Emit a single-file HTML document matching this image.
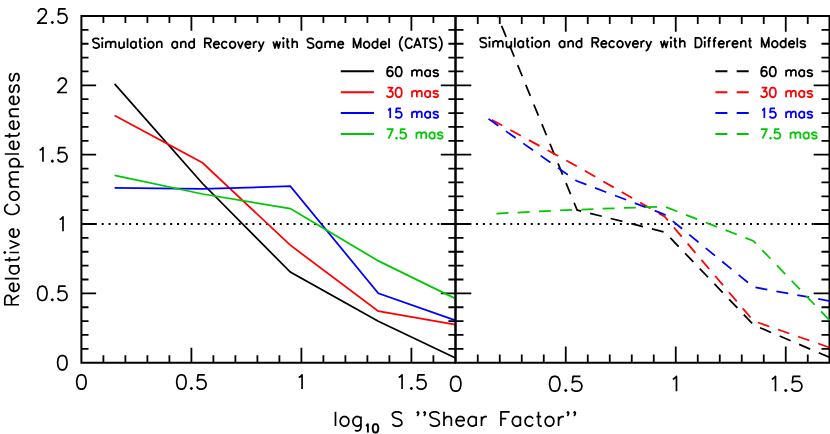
<!DOCTYPE html>
<html><head><meta charset="utf-8"><title>Relative Completeness</title>
<style>html,body{margin:0;padding:0;background:#fff;}body{width:830px;height:434px;overflow:hidden;font-family:"Liberation Sans",sans-serif;}svg{display:block;}</style></head><body>
<svg width="830" height="434" viewBox="0 0 830 434">
<rect width="830" height="434" fill="#fff"/>
<defs>
<clipPath id="cl"><rect x="81.4" y="16.0" width="374.1" height="346.7"/></clipPath>
<clipPath id="cr"><rect x="455.5" y="16.0" width="376.0" height="346.7"/></clipPath>
</defs>
<path d="M81.4 16.0H455.5M81.4 362.7H455.5M81.4 15.0V363.7M455.5 15.0V363.7" stroke="#000" stroke-width="2" fill="none"/>
<path d="M103.40 362.7v-7.3999999999999995M103.40 16.0v7.1M125.40 362.7v-7.3999999999999995M125.40 16.0v7.1M147.40 362.7v-7.3999999999999995M147.40 16.0v7.1M169.40 362.7v-7.3999999999999995M169.40 16.0v7.1M191.40 362.7v-15.0M191.40 16.0v14.7M213.40 362.7v-7.3999999999999995M213.40 16.0v7.1M235.40 362.7v-7.3999999999999995M235.40 16.0v7.1M257.40 362.7v-7.3999999999999995M257.40 16.0v7.1M279.40 362.7v-7.3999999999999995M279.40 16.0v7.1M301.40 362.7v-15.0M301.40 16.0v14.7M323.40 362.7v-7.3999999999999995M323.40 16.0v7.1M345.40 362.7v-7.3999999999999995M345.40 16.0v7.1M367.40 362.7v-7.3999999999999995M367.40 16.0v7.1M389.40 362.7v-7.3999999999999995M389.40 16.0v7.1M411.40 362.7v-15.0M411.40 16.0v14.7M433.40 362.7v-7.3999999999999995M433.40 16.0v7.1M81.4 348.83h7.1M455.5 348.83h-7.1M81.4 334.96h7.1M455.5 334.96h-7.1M81.4 321.10h7.1M455.5 321.10h-7.1M81.4 307.23h7.1M455.5 307.23h-7.1M81.4 293.36h14.7M455.5 293.36h-14.7M81.4 279.49h7.1M455.5 279.49h-7.1M81.4 265.62h7.1M455.5 265.62h-7.1M81.4 251.76h7.1M455.5 251.76h-7.1M81.4 237.89h7.1M455.5 237.89h-7.1M81.4 224.02h14.7M455.5 224.02h-14.7M81.4 210.15h7.1M455.5 210.15h-7.1M81.4 196.28h7.1M455.5 196.28h-7.1M81.4 182.42h7.1M455.5 182.42h-7.1M81.4 168.55h7.1M455.5 168.55h-7.1M81.4 154.68h14.7M455.5 154.68h-14.7M81.4 140.81h7.1M455.5 140.81h-7.1M81.4 126.94h7.1M455.5 126.94h-7.1M81.4 113.08h7.1M455.5 113.08h-7.1M81.4 99.21h7.1M455.5 99.21h-7.1M81.4 85.34h14.7M455.5 85.34h-14.7M81.4 71.47h7.1M455.5 71.47h-7.1M81.4 57.60h7.1M455.5 57.60h-7.1M81.4 43.74h7.1M455.5 43.74h-7.1M81.4 29.87h7.1M455.5 29.87h-7.1" stroke="#000" stroke-width="1.8" fill="none"/>
<path d="M81.15 224.02H455.5" stroke="#000" stroke-width="2" stroke-dasharray="2 4.85" fill="none"/>
<g fill="none" stroke-width="1.75" stroke-linejoin="miter" clip-path="url(#cl)">
<polyline stroke="#000" points="114.6,83.8 202.5,183.5 290.3,272.1 378.3,321.2 455.5,358.0"/>
<polyline stroke="#ff0000" points="114.6,115.5 202.5,162.8 290.3,245.2 378.3,311.2 455.5,324.7"/>
<polyline stroke="#0000ff" points="114.6,187.9 202.5,188.9 290.3,186.2 378.3,293.3 455.5,320.4"/>
<polyline stroke="#00c800" points="114.6,175.3 202.5,194.0 290.3,208.6 378.3,260.9 455.5,298.6"/>
</g>
<path d="M455.5 16.0H829.5M455.5 362.7H829.5M455.5 15.0V363.7M829.5 15.0V363.7" stroke="#000" stroke-width="2" fill="none"/>
<path d="M477.75 362.7v-8.3M477.75 16.0v8.0M499.75 362.7v-8.3M499.75 16.0v8.0M521.75 362.7v-8.3M521.75 16.0v8.0M543.75 362.7v-8.3M543.75 16.0v8.0M565.75 362.7v-16.1M565.75 16.0v15.8M587.75 362.7v-8.3M587.75 16.0v8.0M609.75 362.7v-8.3M609.75 16.0v8.0M631.75 362.7v-8.3M631.75 16.0v8.0M653.75 362.7v-8.3M653.75 16.0v8.0M675.75 362.7v-16.1M675.75 16.0v15.8M697.75 362.7v-8.3M697.75 16.0v8.0M719.75 362.7v-8.3M719.75 16.0v8.0M741.75 362.7v-8.3M741.75 16.0v8.0M763.75 362.7v-8.3M763.75 16.0v8.0M785.75 362.7v-16.1M785.75 16.0v15.8M807.75 362.7v-8.3M807.75 16.0v8.0M455.5 348.83h8.0M829.5 348.83h-8.0M455.5 334.96h8.0M829.5 334.96h-8.0M455.5 321.10h8.0M829.5 321.10h-8.0M455.5 307.23h8.0M829.5 307.23h-8.0M455.5 293.36h15.8M829.5 293.36h-15.8M455.5 279.49h8.0M829.5 279.49h-8.0M455.5 265.62h8.0M829.5 265.62h-8.0M455.5 251.76h8.0M829.5 251.76h-8.0M455.5 237.89h8.0M829.5 237.89h-8.0M455.5 224.02h15.8M829.5 224.02h-15.8M455.5 210.15h8.0M829.5 210.15h-8.0M455.5 196.28h8.0M829.5 196.28h-8.0M455.5 182.42h8.0M829.5 182.42h-8.0M455.5 168.55h8.0M829.5 168.55h-8.0M455.5 154.68h15.8M829.5 154.68h-15.8M455.5 140.81h8.0M829.5 140.81h-8.0M455.5 126.94h8.0M829.5 126.94h-8.0M455.5 113.08h8.0M829.5 113.08h-8.0M455.5 99.21h8.0M829.5 99.21h-8.0M455.5 85.34h15.8M829.5 85.34h-15.8M455.5 71.47h8.0M829.5 71.47h-8.0M455.5 57.60h8.0M829.5 57.60h-8.0M455.5 43.74h8.0M829.5 43.74h-8.0M455.5 29.87h8.0M829.5 29.87h-8.0" stroke="#000" stroke-width="1.8" fill="none"/>
<path d="M455.45 224.02H830.5" stroke="#000" stroke-width="2" stroke-dasharray="2 4.85" fill="none"/>
<g fill="none" stroke-width="1.75" stroke-dasharray="12 9.25" clip-path="url(#cr)">
<polyline stroke="#000" stroke-dashoffset="8.0" points="488.5,-6.1 577.1,210.0 664.9,232.2 753.7,325.0 831,358.0"/>
<polyline stroke="#ff0000" stroke-dashoffset="17.6" points="488.5,118.0 576.4,166.0 664.5,216.5 753.5,321.0 831,348.0"/>
<polyline stroke="#0000ff" stroke-dashoffset="0" points="488.5,118.9 576.4,180.8 664.5,214.4 753.5,287.1 831,301.2"/>
<polyline stroke="#00c800" stroke-dashoffset="13.3" points="488.5,213.9 576.4,209.7 664.5,206.5 753.5,241.0 831,321.8"/>
</g>
<path d="M46.99 23.14 L37.65 23.14 L44.32 16.34 L45.66 14.3 L46.32 12.94 L46.32 11.58 L45.66 10.22 L44.99 9.54 L43.65 8.86 L40.99 8.86 L39.65 9.54 L38.98 10.22 L38.32 11.58 L38.32 12.26M51.66 22.46 L52.33 21.78 L52.99 22.46 L52.33 23.14ZM65.66 8.86 L58.99 8.86 L58.33 14.98 L58.99 14.3 L61 13.62 L63 13.62 L65 14.3 L66.33 15.66 L67 17.7 L67 19.06 L66.33 21.1 L65 22.46 L63 23.14 L61 23.14 L58.99 22.46 L58.33 21.78 L57.66 20.42M67 92.48 L57.66 92.48 L64.33 85.68 L65.67 83.64 L66.33 82.28 L66.33 80.92 L65.67 79.56 L65 78.88 L63.66 78.2 L61 78.2 L59.66 78.88 L59 79.56 L58.33 80.92 L58.33 81.6M42.99 161.82 L42.99 147.54 L40.99 149.58 L39.65 150.26M51.66 161.14 L52.33 160.46 L52.99 161.14 L52.33 161.82ZM65.66 147.54 L58.99 147.54 L58.33 153.66 L58.99 152.98 L61 152.3 L63 152.3 L65 152.98 L66.33 154.34 L67 156.38 L67 157.74 L66.33 159.78 L65 161.14 L63 161.82 L61 161.82 L58.99 161.14 L58.33 160.46 L57.66 159.1M63 231.16 L63 216.88 L61 218.92 L59.66 219.6M42.99 300.5 L41.65 300.5 L39.65 299.82 L38.32 297.78 L37.65 294.38 L37.65 292.34 L38.32 288.94 L39.65 286.9 L41.65 286.22 L42.99 286.22 L44.99 286.9 L46.32 288.94 L46.99 292.34 L46.99 294.38 L46.32 297.78 L44.99 299.82ZM51.66 299.82 L52.33 299.14 L52.99 299.82 L52.33 300.5ZM65.66 286.22 L58.99 286.22 L58.33 292.34 L58.99 291.66 L61 290.98 L63 290.98 L65 291.66 L66.33 293.02 L67 295.06 L67 296.42 L66.33 298.46 L65 299.82 L63 300.5 L61 300.5 L58.99 299.82 L58.33 299.14 L57.66 297.78M63 369.84 L61.66 369.84 L59.66 369.16 L58.33 367.12 L57.66 363.72 L57.66 361.68 L58.33 358.28 L59.66 356.24 L61.66 355.56 L63 355.56 L65 356.24 L66.33 358.28 L67 361.68 L67 363.72 L66.33 367.12 L65 369.16ZM82.07 389.1 L80.73 389.1 L78.73 388.42 L77.4 386.38 L76.73 382.98 L76.73 380.94 L77.4 377.54 L78.73 375.5 L80.73 374.82 L82.07 374.82 L84.07 375.5 L85.4 377.54 L86.07 380.94 L86.07 382.98 L85.4 386.38 L84.07 388.42ZM456.48 391.15 L455.02 391.15 L452.82 390.45 L451.35 388.34 L450.62 384.82 L450.62 382.71 L451.35 379.2 L452.82 377.09 L455.02 376.39 L456.48 376.39 L458.68 377.09 L460.15 379.2 L460.88 382.71 L460.88 384.82 L460.15 388.34 L458.68 390.45ZM182.06 389.1 L180.73 389.1 L178.73 388.42 L177.39 386.38 L176.73 382.98 L176.73 380.94 L177.39 377.54 L178.73 375.5 L180.73 374.82 L182.06 374.82 L184.06 375.5 L185.4 377.54 L186.06 380.94 L186.06 382.98 L185.4 386.38 L184.06 388.42ZM190.73 388.42 L191.4 387.74 L192.07 388.42 L191.4 389.1ZM204.74 374.82 L198.07 374.82 L197.4 380.94 L198.07 380.26 L200.07 379.58 L202.07 379.58 L204.07 380.26 L205.41 381.62 L206.07 383.66 L206.07 385.02 L205.41 387.06 L204.07 388.42 L202.07 389.1 L200.07 389.1 L198.07 388.42 L197.4 387.74 L196.74 386.38M555.49 391.15 L554.02 391.15 L551.82 390.45 L550.36 388.34 L549.62 384.82 L549.62 382.71 L550.36 379.2 L551.82 377.09 L554.02 376.39 L555.49 376.39 L557.69 377.09 L559.15 379.2 L559.89 382.71 L559.89 384.82 L559.15 388.34 L557.69 390.45ZM565.02 390.45 L565.75 389.74 L566.48 390.45 L565.75 391.15ZM580.41 376.39 L573.08 376.39 L572.35 382.71 L573.08 382.01 L575.28 381.31 L577.48 381.31 L579.68 382.01 L581.14 383.42 L581.88 385.53 L581.88 386.93 L581.14 389.04 L579.68 390.45 L577.48 391.15 L575.28 391.15 L573.08 390.45 L572.35 389.74 L571.61 388.34M302.07 389.1 L302.07 374.82 L300.07 376.86 L298.73 377.54M676.48 391.15 L676.48 376.39 L674.28 378.5 L672.82 379.2M402.06 389.1 L402.06 374.82 L400.06 376.86 L398.73 377.54M410.73 388.42 L411.4 387.74 L412.07 388.42 L411.4 389.1ZM424.74 374.82 L418.07 374.82 L417.4 380.94 L418.07 380.26 L420.07 379.58 L422.07 379.58 L424.07 380.26 L425.41 381.62 L426.07 383.66 L426.07 385.02 L425.41 387.06 L424.07 388.42 L422.07 389.1 L420.07 389.1 L418.07 388.42 L417.4 387.74 L416.74 386.38M775.49 391.15 L775.49 376.39 L773.29 378.5 L771.82 379.2M785.02 390.45 L785.75 389.74 L786.48 390.45 L785.75 391.15ZM800.41 376.39 L793.08 376.39 L792.35 382.71 L793.08 382.01 L795.28 381.31 L797.48 381.31 L799.68 382.01 L801.14 383.42 L801.88 385.53 L801.88 386.93 L801.14 389.04 L799.68 390.45 L797.48 391.15 L795.28 391.15 L793.08 390.45 L792.35 389.74 L791.61 388.34M335.48 411.82 L335.48 426.1M341.51 417.94 L340.84 418.62 L340.17 420.66 L340.17 422.02 L340.84 424.06 L342.18 425.42 L343.52 426.1 L345.53 426.1 L346.87 425.42 L348.21 424.06 L348.88 422.02 L348.88 420.66 L348.21 418.62 L346.87 417.26 L345.53 416.58 L343.52 416.58 L342.18 417.26ZM354.91 430.18 L356.25 430.86 L358.26 430.86 L359.6 430.18 L360.27 429.5 L360.94 427.46 L360.94 416.58M360.94 424.06 L359.6 425.42 L358.26 426.1 L356.25 426.1 L354.91 425.42 L353.57 424.06 L352.9 422.02 L352.9 420.66 L353.57 418.62 L354.91 417.26 L356.25 416.58 L358.26 416.58 L359.6 417.26 L360.94 418.62M392.41 424.06 L393.75 425.42 L395.76 426.1 L398.44 426.1 L400.45 425.42 L401.79 424.06 L401.79 422.02 L401.12 420.66 L400.45 419.98 L399.11 419.3 L395.09 417.94 L393.75 417.26 L393.08 416.58 L392.41 415.22 L392.41 413.86 L393.75 412.5 L395.76 411.82 L398.44 411.82 L400.45 412.5 L401.79 413.86M417.87 413.18 L417.2 412.5 L417.87 411.82 L418.54 412.5 L418.54 413.86 L417.87 415.22 L417.2 415.9M424.57 413.18 L423.9 412.5 L424.57 411.82 L425.24 412.5 L425.24 413.86 L424.57 415.22 L423.9 415.9M429.93 424.06 L431.27 425.42 L433.28 426.1 L435.96 426.1 L437.97 425.42 L439.31 424.06 L439.31 422.02 L438.64 420.66 L437.97 419.98 L436.63 419.3 L432.61 417.94 L431.27 417.26 L430.6 416.58 L429.93 415.22 L429.93 413.86 L431.27 412.5 L433.28 411.82 L435.96 411.82 L437.97 412.5 L439.31 413.86M444 411.82 L444 426.1M451.37 426.1 L451.37 419.3 L450.7 417.26 L449.36 416.58 L447.35 416.58 L446.01 417.26 L444 419.3M464.1 424.06 L462.76 425.42 L461.42 426.1 L459.41 426.1 L458.07 425.42 L456.73 424.06 L456.06 422.02 L456.06 420.66 L456.73 418.62 L458.07 417.26 L459.41 416.58 L461.42 416.58 L462.76 417.26 L463.43 417.94 L464.1 419.3 L464.1 420.66 L456.06 420.66M476.16 426.1 L476.16 416.58M476.16 424.06 L474.82 425.42 L473.48 426.1 L471.47 426.1 L470.13 425.42 L468.79 424.06 L468.12 422.02 L468.12 420.66 L468.79 418.62 L470.13 417.26 L471.47 416.58 L473.48 416.58 L474.82 417.26 L476.16 418.62M481.52 426.1 L481.52 416.58M486.88 416.58 L484.87 416.58 L483.53 417.26 L482.19 418.62 L481.52 420.66M506.31 418.62 L500.95 418.62 L500.95 411.82 L509.66 411.82M500.95 426.1 L500.95 418.62M520.38 426.1 L520.38 416.58M520.38 424.06 L519.04 425.42 L517.7 426.1 L515.69 426.1 L514.35 425.42 L513.01 424.06 L512.34 422.02 L512.34 420.66 L513.01 418.62 L514.35 417.26 L515.69 416.58 L517.7 416.58 L519.04 417.26 L520.38 418.62M533.11 424.06 L531.77 425.42 L530.43 426.1 L528.42 426.1 L527.08 425.42 L525.74 424.06 L525.07 422.02 L525.07 420.66 L525.74 418.62 L527.08 417.26 L528.42 416.58 L530.43 416.58 L531.77 417.26 L533.11 418.62M538.47 411.82 L538.47 423.38 L539.14 425.42 L540.48 426.1 L541.82 426.1M536.46 416.58 L541.15 416.58M546.51 417.94 L545.84 418.62 L545.17 420.66 L545.17 422.02 L545.84 424.06 L547.18 425.42 L548.52 426.1 L550.53 426.1 L551.87 425.42 L553.21 424.06 L553.88 422.02 L553.88 420.66 L553.21 418.62 L551.87 417.26 L550.53 416.58 L548.52 416.58 L547.18 417.26ZM558.57 426.1 L558.57 416.58M563.93 416.58 L561.92 416.58 L560.58 417.26 L559.24 418.62 L558.57 420.66M567.95 413.18 L567.28 412.5 L567.95 411.82 L568.62 412.5 L568.62 413.86 L567.95 415.22 L567.28 415.9M574.65 413.18 L573.98 412.5 L574.65 411.82 L575.32 412.5 L575.32 413.86 L574.65 415.22 L573.98 415.9M19 304.74 L4.78 304.74 L4.78 298.71 L5.46 296.7 L6.14 296.03 L7.49 295.36 L8.84 295.36 L10.2 296.03 L10.88 296.7 L11.55 298.71 L11.55 304.74M19 295.36 L11.55 300.05M16.97 283.3 L18.32 284.64 L19 285.98 L19 287.99 L18.32 289.33 L16.97 290.67 L14.94 291.34 L13.58 291.34 L11.55 290.67 L10.2 289.33 L9.52 287.99 L9.52 285.98 L10.2 284.64 L10.88 283.97 L12.23 283.3 L13.58 283.3 L13.58 291.34M4.78 278.61 L19 278.61M19 265.88 L9.52 265.88M16.97 265.88 L18.32 267.22 L19 268.56 L19 270.57 L18.32 271.91 L16.97 273.25 L14.94 273.92 L13.58 273.92 L11.55 273.25 L10.2 271.91 L9.52 270.57 L9.52 268.56 L10.2 267.22 L11.55 265.88M4.78 259.85 L16.29 259.85 L18.32 259.18 L19 257.84 L19 256.5M9.52 261.86 L9.52 257.17M19 252.48 L9.52 252.48M5.46 252.48 L4.78 253.15 L4.11 252.48 L4.78 251.81ZM9.52 248.46 L19 244.44 L9.52 240.42M16.97 229.03 L18.32 230.37 L19 231.71 L19 233.72 L18.32 235.06 L16.97 236.4 L14.94 237.07 L13.58 237.07 L11.55 236.4 L10.2 235.06 L9.52 233.72 L9.52 231.71 L10.2 230.37 L10.88 229.7 L12.23 229.03 L13.58 229.03 L13.58 237.07M15.62 204.24 L16.97 204.91 L18.32 206.25 L19 207.59 L19 210.27 L18.32 211.61 L16.97 212.95 L15.62 213.62 L13.58 214.29 L10.2 214.29 L8.17 213.62 L6.81 212.95 L5.46 211.61 L4.78 210.27 L4.78 207.59 L5.46 206.25 L6.81 204.91 L8.17 204.24M10.88 198.88 L11.55 199.55 L13.58 200.22 L14.94 200.22 L16.97 199.55 L18.32 198.21 L19 196.87 L19 194.86 L18.32 193.52 L16.97 192.18 L14.94 191.51 L13.58 191.51 L11.55 192.18 L10.2 193.52 L9.52 194.86 L9.52 196.87 L10.2 198.21ZM19 186.82 L9.52 186.82M19 179.45 L12.23 179.45 L10.2 180.12 L9.52 181.46 L9.52 183.47 L10.2 184.81 L12.23 186.82M19 172.08 L12.23 172.08 L10.2 172.75 L9.52 174.09 L9.52 176.1 L10.2 177.44 L12.23 179.45M9.52 166.72 L23.74 166.72M16.97 166.72 L18.32 165.38 L19 164.04 L19 162.03 L18.32 160.69 L16.97 159.35 L14.94 158.68 L13.58 158.68 L11.55 159.35 L10.2 160.69 L9.52 162.03 L9.52 164.04 L10.2 165.38 L11.55 166.72M4.78 153.99 L19 153.99M16.97 141.26 L18.32 142.6 L19 143.94 L19 145.95 L18.32 147.29 L16.97 148.63 L14.94 149.3 L13.58 149.3 L11.55 148.63 L10.2 147.29 L9.52 145.95 L9.52 143.94 L10.2 142.6 L10.88 141.93 L12.23 141.26 L13.58 141.26 L13.58 149.3M4.78 135.9 L16.29 135.9 L18.32 135.23 L19 133.89 L19 132.55M9.52 137.91 L9.52 133.22M16.97 121.16 L18.32 122.5 L19 123.84 L19 125.85 L18.32 127.19 L16.97 128.53 L14.94 129.2 L13.58 129.2 L11.55 128.53 L10.2 127.19 L9.52 125.85 L9.52 123.84 L10.2 122.5 L10.88 121.83 L12.23 121.16 L13.58 121.16 L13.58 129.2M19 116.47 L9.52 116.47M19 109.1 L12.23 109.1 L10.2 109.77 L9.52 111.11 L9.52 113.12 L10.2 114.46 L12.23 116.47M16.97 96.37 L18.32 97.71 L19 99.05 L19 101.06 L18.32 102.4 L16.97 103.74 L14.94 104.41 L13.58 104.41 L11.55 103.74 L10.2 102.4 L9.52 101.06 L9.52 99.05 L10.2 97.71 L10.88 97.04 L12.23 96.37 L13.58 96.37 L13.58 104.41M16.97 92.35 L18.32 91.68 L19 89.67 L19 87.66 L18.32 85.65 L16.97 84.98 L16.29 84.98 L14.94 85.65 L14.26 86.99 L13.58 90.34 L12.91 91.68 L11.55 92.35 L10.2 91.68 L9.52 89.67 L9.52 87.66 L10.2 85.65 L11.55 84.98M16.97 80.96 L18.32 80.29 L19 78.28 L19 76.27 L18.32 74.26 L16.97 73.59 L16.29 73.59 L14.94 74.26 L14.26 75.6 L13.58 78.95 L12.91 80.29 L11.55 80.96 L10.2 80.29 L9.52 78.28 L9.52 76.27 L10.2 74.26 L11.55 73.59" stroke="#000" stroke-width="1.7" fill="none" stroke-linejoin="round"/>
<path d="M367.9 432.5 L367.9 424.1 L366.7 425.3 L365.9 425.7M375.9 432.5 L375.1 432.5 L373.9 432.1 L373.1 430.9 L372.7 428.9 L372.7 427.7 L373.1 425.7 L373.9 424.5 L375.1 424.1 L375.9 424.1 L377.1 424.5 L377.9 425.7 L378.3 427.7 L378.3 428.9 L377.9 430.9 L377.1 432.1Z" stroke="#000" stroke-width="1.9" fill="none" stroke-linejoin="round"/>
<path d="M340.8 71.35H374" stroke="#000" stroke-width="2" fill="none"/>
<path d="M715.4 71.35H748.7" stroke="#000" stroke-width="2" stroke-dasharray="12 9.3" fill="none"/>
<path d="M340.8 92.20H374" stroke="#ff0000" stroke-width="2" fill="none"/>
<path d="M715.4 92.20H748.7" stroke="#ff0000" stroke-width="2" stroke-dasharray="12 9.3" fill="none"/>
<path d="M340.8 113.05H374" stroke="#0000ff" stroke-width="2" fill="none"/>
<path d="M715.4 113.05H748.7" stroke="#0000ff" stroke-width="2" stroke-dasharray="12 9.3" fill="none"/>
<path d="M340.8 133.90H374" stroke="#00c800" stroke-width="2" fill="none"/>
<path d="M715.4 133.90H748.7" stroke="#00c800" stroke-width="2" stroke-dasharray="12 9.3" fill="none"/>
<path d="M92.93 46.61 L93.82 47.54 L95.15 48 L96.93 48 L98.26 47.54 L99.15 46.61 L99.15 45.23 L98.7 44.3 L98.26 43.84 L97.37 43.38 L94.71 42.46 L93.82 41.99 L93.38 41.53 L92.93 40.61 L92.93 39.68 L93.82 38.76 L95.15 38.3 L96.93 38.3 L98.26 38.76 L99.15 39.68M102.26 48 L102.26 41.53M102.26 38.76 L101.81 38.3 L102.26 37.84 L102.7 38.3ZM105.81 48 L105.81 41.53M110.69 48 L110.69 43.38 L110.25 41.99 L109.36 41.53 L108.03 41.53 L107.14 41.99 L105.81 43.38M115.58 48 L115.58 43.38 L115.13 41.99 L114.24 41.53 L112.91 41.53 L112.02 41.99 L110.69 43.38M124.01 48 L124.01 41.53M119.13 41.53 L119.13 46.15 L119.57 47.54 L120.46 48 L121.79 48 L122.68 47.54 L124.01 46.15M127.56 38.3 L127.56 48M136 48 L136 41.53M136 46.61 L135.11 47.54 L134.22 48 L132.89 48 L132 47.54 L131.12 46.61 L130.67 45.23 L130.67 44.3 L131.12 42.92 L132 41.99 L132.89 41.53 L134.22 41.53 L135.11 41.99 L136 42.92M140 38.3 L140 46.15 L140.44 47.54 L141.33 48 L142.22 48M138.66 41.53 L141.77 41.53M144.88 48 L144.88 41.53M144.88 38.76 L144.44 38.3 L144.88 37.84 L145.32 38.3ZM148.88 42.46 L148.43 42.92 L147.99 44.3 L147.99 45.23 L148.43 46.61 L149.32 47.54 L150.21 48 L151.54 48 L152.43 47.54 L153.32 46.61 L153.76 45.23 L153.76 44.3 L153.32 42.92 L152.43 41.99 L151.54 41.53 L150.21 41.53 L149.32 41.99ZM156.87 48 L156.87 41.53M161.75 48 L161.75 43.38 L161.31 41.99 L160.42 41.53 L159.09 41.53 L158.2 41.99 L156.87 43.38M177.29 48 L177.29 41.53M177.29 46.61 L176.4 47.54 L175.52 48 L174.18 48 L173.3 47.54 L172.41 46.61 L171.96 45.23 L171.96 44.3 L172.41 42.92 L173.3 41.99 L174.18 41.53 L175.52 41.53 L176.4 41.99 L177.29 42.92M180.84 48 L180.84 41.53M185.73 48 L185.73 43.38 L185.28 41.99 L184.4 41.53 L183.06 41.53 L182.18 41.99 L180.84 43.38M194.16 38.3 L194.16 48M194.16 46.61 L193.28 47.54 L192.39 48 L191.06 48 L190.17 47.54 L189.28 46.61 L188.84 45.23 L188.84 44.3 L189.28 42.92 L190.17 41.99 L191.06 41.53 L192.39 41.53 L193.28 41.99 L194.16 42.92M204.82 48 L204.82 38.3 L208.82 38.3 L210.15 38.76 L210.59 39.22 L211.04 40.15 L211.04 41.07 L210.59 41.99 L210.15 42.46 L208.82 42.92 L204.82 42.92M211.04 48 L207.93 42.92M219.03 46.61 L218.14 47.54 L217.25 48 L215.92 48 L215.03 47.54 L214.14 46.61 L213.7 45.23 L213.7 44.3 L214.14 42.92 L215.03 41.99 L215.92 41.53 L217.25 41.53 L218.14 41.99 L218.58 42.46 L219.03 43.38 L219.03 44.3 L213.7 44.3M227.02 46.61 L226.13 47.54 L225.24 48 L223.91 48 L223.02 47.54 L222.14 46.61 L221.69 45.23 L221.69 44.3 L222.14 42.92 L223.02 41.99 L223.91 41.53 L225.24 41.53 L226.13 41.99 L227.02 42.92M230.57 42.46 L230.13 42.92 L229.68 44.3 L229.68 45.23 L230.13 46.61 L231.02 47.54 L231.9 48 L233.24 48 L234.12 47.54 L235.01 46.61 L235.46 45.23 L235.46 44.3 L235.01 42.92 L234.12 41.99 L233.24 41.53 L231.9 41.53 L231.02 41.99ZM237.68 41.53 L240.34 48 L243 41.53M250.55 46.61 L249.66 47.54 L248.78 48 L247.44 48 L246.56 47.54 L245.67 46.61 L245.22 45.23 L245.22 44.3 L245.67 42.92 L246.56 41.99 L247.44 41.53 L248.78 41.53 L249.66 41.99 L250.11 42.46 L250.55 43.38 L250.55 44.3 L245.22 44.3M253.66 48 L253.66 41.53M257.21 41.53 L255.88 41.53 L254.99 41.99 L254.1 42.92 L253.66 44.3M258.1 51.23 L258.54 51.23 L259.43 50.77 L260.32 49.85 L261.21 48 L263.87 41.53M258.54 41.53 L261.21 48M273.2 41.53 L274.97 48 L276.75 41.53 L278.52 48 L280.3 41.53M283.41 48 L283.41 41.53M283.41 38.76 L282.96 38.3 L283.41 37.84 L283.85 38.3ZM287.4 38.3 L287.4 46.15 L287.85 47.54 L288.74 48 L289.62 48M286.07 41.53 L289.18 41.53M292.29 38.3 L292.29 48M297.17 48 L297.17 43.38 L296.73 41.99 L295.84 41.53 L294.51 41.53 L293.62 41.99 L292.29 43.38M307.38 46.61 L308.27 47.54 L309.6 48 L311.38 48 L312.71 47.54 L313.6 46.61 L313.6 45.23 L313.16 44.3 L312.71 43.84 L311.82 43.38 L309.16 42.46 L308.27 41.99 L307.83 41.53 L307.38 40.61 L307.38 39.68 L308.27 38.76 L309.6 38.3 L311.38 38.3 L312.71 38.76 L313.6 39.68M321.59 48 L321.59 41.53M321.59 46.61 L320.7 47.54 L319.82 48 L318.48 48 L317.6 47.54 L316.71 46.61 L316.26 45.23 L316.26 44.3 L316.71 42.92 L317.6 41.99 L318.48 41.53 L319.82 41.53 L320.7 41.99 L321.59 42.92M325.14 48 L325.14 41.53M330.03 48 L330.03 43.38 L329.58 41.99 L328.7 41.53 L327.36 41.53 L326.48 41.99 L325.14 43.38M334.91 48 L334.91 43.38 L334.47 41.99 L333.58 41.53 L332.25 41.53 L331.36 41.99 L330.03 43.38M343.35 46.61 L342.46 47.54 L341.57 48 L340.24 48 L339.35 47.54 L338.46 46.61 L338.02 45.23 L338.02 44.3 L338.46 42.92 L339.35 41.99 L340.24 41.53 L341.57 41.53 L342.46 41.99 L342.9 42.46 L343.35 43.38 L343.35 44.3 L338.02 44.3M353.56 48 L353.56 38.3 L357.11 48 L360.66 38.3 L360.66 48M364.66 42.46 L364.22 42.92 L363.77 44.3 L363.77 45.23 L364.22 46.61 L365.1 47.54 L365.99 48 L367.32 48 L368.21 47.54 L369.1 46.61 L369.54 45.23 L369.54 44.3 L369.1 42.92 L368.21 41.99 L367.32 41.53 L365.99 41.53 L365.1 41.99ZM377.54 38.3 L377.54 48M377.54 46.61 L376.65 47.54 L375.76 48 L374.43 48 L373.54 47.54 L372.65 46.61 L372.21 45.23 L372.21 44.3 L372.65 42.92 L373.54 41.99 L374.43 41.53 L375.76 41.53 L376.65 41.99 L377.54 42.92M385.97 46.61 L385.08 47.54 L384.2 48 L382.86 48 L381.98 47.54 L381.09 46.61 L380.64 45.23 L380.64 44.3 L381.09 42.92 L381.98 41.99 L382.86 41.53 L384.2 41.53 L385.08 41.99 L385.53 42.46 L385.97 43.38 L385.97 44.3 L380.64 44.3M389.08 38.3 L389.08 48M402.84 36.45 L401.96 37.37 L401.07 38.76 L400.18 40.61 L399.74 42.92 L399.74 44.77 L400.18 47.08 L401.07 48.92 L401.96 50.31 L402.84 51.23M412.17 45.69 L411.72 46.61 L410.84 47.54 L409.95 48 L408.17 48 L407.28 47.54 L406.4 46.61 L405.95 45.69 L405.51 44.3 L405.51 41.99 L405.95 40.61 L406.4 39.68 L407.28 38.76 L408.17 38.3 L409.95 38.3 L410.84 38.76 L411.72 39.68 L412.17 40.61M415.28 44.77 L419.72 44.77M421.05 48 L417.5 38.3 L413.94 48M421.94 38.3 L428.15 38.3M425.04 48 L425.04 38.3M429.93 46.61 L430.82 47.54 L432.15 48 L433.92 48 L435.26 47.54 L436.14 46.61 L436.14 45.23 L435.7 44.3 L435.26 43.84 L434.37 43.38 L431.7 42.46 L430.82 41.99 L430.37 41.53 L429.93 40.61 L429.93 39.68 L430.82 38.76 L432.15 38.3 L433.92 38.3 L435.26 38.76 L436.14 39.68M438.81 51.23 L439.7 50.31 L440.58 48.92 L441.47 47.08 L441.92 44.77 L441.92 42.92 L441.47 40.61 L440.58 38.76 L439.7 37.37 L438.81 36.45M480.13 46.06 L481.02 46.99 L482.36 47.45 L484.14 47.45 L485.47 46.99 L486.36 46.06 L486.36 44.68 L485.92 43.75 L485.47 43.29 L484.58 42.83 L481.91 41.91 L481.02 41.44 L480.58 40.98 L480.13 40.06 L480.13 39.13 L481.02 38.21 L482.36 37.75 L484.14 37.75 L485.47 38.21 L486.36 39.13M489.48 47.45 L489.48 40.98M489.48 38.21 L489.03 37.75 L489.48 37.29 L489.92 37.75ZM493.03 47.45 L493.03 40.98M497.93 47.45 L497.93 42.83 L497.48 41.44 L496.59 40.98 L495.26 40.98 L494.37 41.44 L493.03 42.83M502.82 47.45 L502.82 42.83 L502.37 41.44 L501.48 40.98 L500.15 40.98 L499.26 41.44 L497.93 42.83M511.27 47.45 L511.27 40.98M506.38 40.98 L506.38 45.6 L506.82 46.99 L507.71 47.45 L509.05 47.45 L509.94 46.99 L511.27 45.6M514.83 37.75 L514.83 47.45M523.28 47.45 L523.28 40.98M523.28 46.06 L522.39 46.99 L521.5 47.45 L520.17 47.45 L519.28 46.99 L518.39 46.06 L517.94 44.68 L517.94 43.75 L518.39 42.37 L519.28 41.44 L520.17 40.98 L521.5 40.98 L522.39 41.44 L523.28 42.37M527.28 37.75 L527.28 45.6 L527.73 46.99 L528.62 47.45 L529.51 47.45M525.95 40.98 L529.06 40.98M532.18 47.45 L532.18 40.98M532.18 38.21 L531.73 37.75 L532.18 37.29 L532.62 37.75ZM536.18 41.91 L535.73 42.37 L535.29 43.75 L535.29 44.68 L535.73 46.06 L536.62 46.99 L537.51 47.45 L538.85 47.45 L539.74 46.99 L540.63 46.06 L541.07 44.68 L541.07 43.75 L540.63 42.37 L539.74 41.44 L538.85 40.98 L537.51 40.98 L536.62 41.44ZM544.19 47.45 L544.19 40.98M549.08 47.45 L549.08 42.83 L548.63 41.44 L547.74 40.98 L546.41 40.98 L545.52 41.44 L544.19 42.83M564.65 47.45 L564.65 40.98M564.65 46.06 L563.76 46.99 L562.87 47.45 L561.53 47.45 L560.64 46.99 L559.75 46.06 L559.31 44.68 L559.31 43.75 L559.75 42.37 L560.64 41.44 L561.53 40.98 L562.87 40.98 L563.76 41.44 L564.65 42.37M568.2 47.45 L568.2 40.98M573.1 47.45 L573.1 42.83 L572.65 41.44 L571.76 40.98 L570.43 40.98 L569.54 41.44 L568.2 42.83M581.55 37.75 L581.55 47.45M581.55 46.06 L580.66 46.99 L579.77 47.45 L578.44 47.45 L577.55 46.99 L576.66 46.06 L576.21 44.68 L576.21 43.75 L576.66 42.37 L577.55 41.44 L578.44 40.98 L579.77 40.98 L580.66 41.44 L581.55 42.37M592.22 47.45 L592.22 37.75 L596.23 37.75 L597.56 38.21 L598.01 38.67 L598.45 39.6 L598.45 40.52 L598.01 41.44 L597.56 41.91 L596.23 42.37 L592.22 42.37M598.45 47.45 L595.34 42.37M606.46 46.06 L605.57 46.99 L604.68 47.45 L603.34 47.45 L602.45 46.99 L601.56 46.06 L601.12 44.68 L601.12 43.75 L601.56 42.37 L602.45 41.44 L603.34 40.98 L604.68 40.98 L605.57 41.44 L606.01 41.91 L606.46 42.83 L606.46 43.75 L601.12 43.75M614.46 46.06 L613.57 46.99 L612.68 47.45 L611.35 47.45 L610.46 46.99 L609.57 46.06 L609.13 44.68 L609.13 43.75 L609.57 42.37 L610.46 41.44 L611.35 40.98 L612.68 40.98 L613.57 41.44 L614.46 42.37M618.02 41.91 L617.58 42.37 L617.13 43.75 L617.13 44.68 L617.58 46.06 L618.47 46.99 L619.36 47.45 L620.69 47.45 L621.58 46.99 L622.47 46.06 L622.92 44.68 L622.92 43.75 L622.47 42.37 L621.58 41.44 L620.69 40.98 L619.36 40.98 L618.47 41.44ZM625.14 40.98 L627.81 47.45 L630.48 40.98M638.04 46.06 L637.15 46.99 L636.26 47.45 L634.92 47.45 L634.04 46.99 L633.15 46.06 L632.7 44.68 L632.7 43.75 L633.15 42.37 L634.04 41.44 L634.92 40.98 L636.26 40.98 L637.15 41.44 L637.59 41.91 L638.04 42.83 L638.04 43.75 L632.7 43.75M641.15 47.45 L641.15 40.98M644.71 40.98 L643.38 40.98 L642.49 41.44 L641.6 42.37 L641.15 43.75M645.6 50.68 L646.04 50.68 L646.93 50.22 L647.82 49.3 L648.71 47.45 L651.38 40.98M646.04 40.98 L648.71 47.45M660.72 40.98 L662.5 47.45 L664.28 40.98 L666.06 47.45 L667.84 40.98M670.95 47.45 L670.95 40.98M670.95 38.21 L670.51 37.75 L670.95 37.29 L671.4 37.75ZM674.96 37.75 L674.96 45.6 L675.4 46.99 L676.29 47.45 L677.18 47.45M673.62 40.98 L676.74 40.98M679.85 37.75 L679.85 47.45M684.74 47.45 L684.74 42.83 L684.3 41.44 L683.41 40.98 L682.07 40.98 L681.18 41.44 L679.85 42.83M699.87 38.21 L698.53 37.75 L695.42 37.75 L695.42 47.45 L698.53 47.45 L699.87 46.99 L700.76 46.06 L701.2 45.14 L701.64 43.75 L701.64 41.44 L701.2 40.06 L700.76 39.13ZM704.76 47.45 L704.76 40.98M704.76 38.21 L704.31 37.75 L704.76 37.29 L705.2 37.75ZM708.76 47.45 L708.76 39.6 L709.21 38.21 L710.1 37.75 L710.99 37.75M707.43 40.98 L710.54 40.98M714.1 47.45 L714.1 39.6 L714.54 38.21 L715.43 37.75 L716.32 37.75M712.76 40.98 L715.88 40.98M723.88 46.06 L723 46.99 L722.11 47.45 L720.77 47.45 L719.88 46.99 L718.99 46.06 L718.55 44.68 L718.55 43.75 L718.99 42.37 L719.88 41.44 L720.77 40.98 L722.11 40.98 L723 41.44 L723.44 41.91 L723.88 42.83 L723.88 43.75 L718.55 43.75M727 47.45 L727 40.98M730.56 40.98 L729.22 40.98 L728.33 41.44 L727.44 42.37 L727 43.75M737.67 46.06 L736.78 46.99 L735.89 47.45 L734.56 47.45 L733.67 46.99 L732.78 46.06 L732.34 44.68 L732.34 43.75 L732.78 42.37 L733.67 41.44 L734.56 40.98 L735.89 40.98 L736.78 41.44 L737.23 41.91 L737.67 42.83 L737.67 43.75 L732.34 43.75M740.79 47.45 L740.79 40.98M745.68 47.45 L745.68 42.83 L745.24 41.44 L744.35 40.98 L743.01 40.98 L742.12 41.44 L740.79 42.83M749.68 37.75 L749.68 45.6 L750.13 46.99 L751.02 47.45 L751.91 47.45M748.35 40.98 L751.46 40.98M761.69 47.45 L761.69 37.75 L765.25 47.45 L768.81 37.75 L768.81 47.45M772.81 41.91 L772.37 42.37 L771.92 43.75 L771.92 44.68 L772.37 46.06 L773.26 46.99 L774.15 47.45 L775.48 47.45 L776.37 46.99 L777.26 46.06 L777.71 44.68 L777.71 43.75 L777.26 42.37 L776.37 41.44 L775.48 40.98 L774.15 40.98 L773.26 41.44ZM785.71 37.75 L785.71 47.45M785.71 46.06 L784.82 46.99 L783.93 47.45 L782.6 47.45 L781.71 46.99 L780.82 46.06 L780.37 44.68 L780.37 43.75 L780.82 42.37 L781.71 41.44 L782.6 40.98 L783.93 40.98 L784.82 41.44 L785.71 42.37M794.16 46.06 L793.27 46.99 L792.38 47.45 L791.05 47.45 L790.16 46.99 L789.27 46.06 L788.83 44.68 L788.83 43.75 L789.27 42.37 L790.16 41.44 L791.05 40.98 L792.38 40.98 L793.27 41.44 L793.72 41.91 L794.16 42.83 L794.16 43.75 L788.83 43.75M797.28 37.75 L797.28 47.45M800.39 46.06 L800.84 46.99 L802.17 47.45 L803.5 47.45 L804.84 46.99 L805.28 46.06 L805.28 45.6 L804.84 44.68 L803.95 44.22 L801.72 43.75 L800.84 43.29 L800.39 42.37 L800.84 41.44 L802.17 40.98 L803.5 40.98 L804.84 41.44 L805.28 42.37M392.45 68.26 L392.01 67.36 L390.68 66.91 L389.79 66.91 L388.46 67.36 L387.57 68.72 L387.13 70.98 L387.13 73.24 L387.57 75.04 L388.46 75.95 L389.79 76.4 L390.23 76.4 L391.57 75.95 L392.45 75.04 L392.9 73.69 L392.9 73.24 L392.45 71.88 L391.57 70.98 L390.23 70.52 L389.79 70.52 L388.46 70.98 L387.57 71.88 L387.13 73.24M399.11 76.4 L398.23 76.4 L396.89 75.95 L396.01 74.59 L395.56 72.33 L395.56 70.98 L396.01 68.72 L396.89 67.36 L398.23 66.91 L399.11 66.91 L400.45 67.36 L401.33 68.72 L401.78 70.98 L401.78 72.33 L401.33 74.59 L400.45 75.95ZM411.99 76.4 L411.99 70.07M416.87 76.4 L416.87 71.88 L416.43 70.52 L415.54 70.07 L414.21 70.07 L413.32 70.52 L411.99 71.88M421.76 76.4 L421.76 71.88 L421.31 70.52 L420.43 70.07 L419.09 70.07 L418.21 70.52 L416.87 71.88M430.19 76.4 L430.19 70.07M430.19 75.04 L429.31 75.95 L428.42 76.4 L427.09 76.4 L426.2 75.95 L425.31 75.04 L424.87 73.69 L424.87 72.78 L425.31 71.43 L426.2 70.52 L427.09 70.07 L428.42 70.07 L429.31 70.52 L430.19 71.43M433.3 75.04 L433.75 75.95 L435.08 76.4 L436.41 76.4 L437.74 75.95 L438.19 75.04 L438.19 74.59 L437.74 73.69 L436.85 73.24 L434.63 72.78 L433.75 72.33 L433.3 71.43 L433.75 70.52 L435.08 70.07 L436.41 70.07 L437.74 70.52 L438.19 71.43M766.55 68.26 L766.11 67.36 L764.78 66.91 L763.89 66.91 L762.56 67.36 L761.67 68.72 L761.23 70.98 L761.23 73.24 L761.67 75.04 L762.56 75.95 L763.89 76.4 L764.33 76.4 L765.67 75.95 L766.55 75.04 L767 73.69 L767 73.24 L766.55 71.88 L765.67 70.98 L764.33 70.52 L763.89 70.52 L762.56 70.98 L761.67 71.88 L761.23 73.24M773.21 76.4 L772.33 76.4 L770.99 75.95 L770.11 74.59 L769.66 72.33 L769.66 70.98 L770.11 68.72 L770.99 67.36 L772.33 66.91 L773.21 66.91 L774.55 67.36 L775.43 68.72 L775.88 70.98 L775.88 72.33 L775.43 74.59 L774.55 75.95ZM786.09 76.4 L786.09 70.07M790.97 76.4 L790.97 71.88 L790.53 70.52 L789.64 70.07 L788.31 70.07 L787.42 70.52 L786.09 71.88M795.86 76.4 L795.86 71.88 L795.41 70.52 L794.53 70.07 L793.19 70.07 L792.31 70.52 L790.97 71.88M804.29 76.4 L804.29 70.07M804.29 75.04 L803.41 75.95 L802.52 76.4 L801.19 76.4 L800.3 75.95 L799.41 75.04 L798.97 73.69 L798.97 72.78 L799.41 71.43 L800.3 70.52 L801.19 70.07 L802.52 70.07 L803.41 70.52 L804.29 71.43M807.4 75.04 L807.85 75.95 L809.18 76.4 L810.51 76.4 L811.84 75.95 L812.29 75.04 L812.29 74.59 L811.84 73.69 L810.95 73.24 L808.73 72.78 L807.85 72.33 L807.4 71.43 L807.85 70.52 L809.18 70.07 L810.51 70.07 L811.84 70.52 L812.29 71.43" stroke="#000" stroke-width="1.75" fill="none" stroke-linejoin="round"/>
<path d="M387.57 87.66 L392.45 87.66 L389.79 91.27 L391.12 91.27 L392.01 91.73 L392.45 92.18 L392.9 93.53 L392.9 94.44 L392.45 95.79 L391.57 96.7 L390.23 97.15 L388.9 97.15 L387.57 96.7 L387.13 96.25 L386.68 95.34M399.11 97.15 L398.23 97.15 L396.89 96.7 L396.01 95.34 L395.56 93.08 L395.56 91.73 L396.01 89.47 L396.89 88.11 L398.23 87.66 L399.11 87.66 L400.45 88.11 L401.33 89.47 L401.78 91.73 L401.78 93.08 L401.33 95.34 L400.45 96.7ZM411.99 97.15 L411.99 90.82M416.87 97.15 L416.87 92.63 L416.43 91.27 L415.54 90.82 L414.21 90.82 L413.32 91.27 L411.99 92.63M421.76 97.15 L421.76 92.63 L421.31 91.27 L420.43 90.82 L419.09 90.82 L418.21 91.27 L416.87 92.63M430.19 97.15 L430.19 90.82M430.19 95.79 L429.31 96.7 L428.42 97.15 L427.09 97.15 L426.2 96.7 L425.31 95.79 L424.87 94.44 L424.87 93.53 L425.31 92.18 L426.2 91.27 L427.09 90.82 L428.42 90.82 L429.31 91.27 L430.19 92.18M433.3 95.79 L433.75 96.7 L435.08 97.15 L436.41 97.15 L437.74 96.7 L438.19 95.79 L438.19 95.34 L437.74 94.44 L436.85 93.99 L434.63 93.53 L433.75 93.08 L433.3 92.18 L433.75 91.27 L435.08 90.82 L436.41 90.82 L437.74 91.27 L438.19 92.18M761.67 87.66 L766.55 87.66 L763.89 91.27 L765.22 91.27 L766.11 91.73 L766.55 92.18 L767 93.53 L767 94.44 L766.55 95.79 L765.67 96.7 L764.33 97.15 L763 97.15 L761.67 96.7 L761.23 96.25 L760.78 95.34M773.21 97.15 L772.33 97.15 L770.99 96.7 L770.11 95.34 L769.66 93.08 L769.66 91.73 L770.11 89.47 L770.99 88.11 L772.33 87.66 L773.21 87.66 L774.55 88.11 L775.43 89.47 L775.88 91.73 L775.88 93.08 L775.43 95.34 L774.55 96.7ZM786.09 97.15 L786.09 90.82M790.97 97.15 L790.97 92.63 L790.53 91.27 L789.64 90.82 L788.31 90.82 L787.42 91.27 L786.09 92.63M795.86 97.15 L795.86 92.63 L795.41 91.27 L794.53 90.82 L793.19 90.82 L792.31 91.27 L790.97 92.63M804.29 97.15 L804.29 90.82M804.29 95.79 L803.41 96.7 L802.52 97.15 L801.19 97.15 L800.3 96.7 L799.41 95.79 L798.97 94.44 L798.97 93.53 L799.41 92.18 L800.3 91.27 L801.19 90.82 L802.52 90.82 L803.41 91.27 L804.29 92.18M807.4 95.79 L807.85 96.7 L809.18 97.15 L810.51 97.15 L811.84 96.7 L812.29 95.79 L812.29 95.34 L811.84 94.44 L810.95 93.99 L808.73 93.53 L807.85 93.08 L807.4 92.18 L807.85 91.27 L809.18 90.82 L810.51 90.82 L811.84 91.27 L812.29 92.18" stroke="#ff0000" stroke-width="1.75" fill="none" stroke-linejoin="round"/>
<path d="M390.23 117.9 L390.23 108.41 L388.9 109.76 L388.01 110.22M400.89 108.41 L396.45 108.41 L396.01 112.48 L396.45 112.02 L397.78 111.57 L399.11 111.57 L400.45 112.02 L401.33 112.93 L401.78 114.28 L401.78 115.19 L401.33 116.54 L400.45 117.45 L399.11 117.9 L397.78 117.9 L396.45 117.45 L396.01 117 L395.56 116.09M411.99 117.9 L411.99 111.57M416.87 117.9 L416.87 113.38 L416.43 112.02 L415.54 111.57 L414.21 111.57 L413.32 112.02 L411.99 113.38M421.76 117.9 L421.76 113.38 L421.31 112.02 L420.43 111.57 L419.09 111.57 L418.21 112.02 L416.87 113.38M430.19 117.9 L430.19 111.57M430.19 116.54 L429.31 117.45 L428.42 117.9 L427.09 117.9 L426.2 117.45 L425.31 116.54 L424.87 115.19 L424.87 114.28 L425.31 112.93 L426.2 112.02 L427.09 111.57 L428.42 111.57 L429.31 112.02 L430.19 112.93M433.3 116.54 L433.75 117.45 L435.08 117.9 L436.41 117.9 L437.74 117.45 L438.19 116.54 L438.19 116.09 L437.74 115.19 L436.85 114.74 L434.63 114.28 L433.75 113.83 L433.3 112.93 L433.75 112.02 L435.08 111.57 L436.41 111.57 L437.74 112.02 L438.19 112.93M764.33 117.9 L764.33 108.41 L763 109.76 L762.11 110.22M774.99 108.41 L770.55 108.41 L770.11 112.48 L770.55 112.02 L771.88 111.57 L773.21 111.57 L774.55 112.02 L775.43 112.93 L775.88 114.28 L775.88 115.19 L775.43 116.54 L774.55 117.45 L773.21 117.9 L771.88 117.9 L770.55 117.45 L770.11 117 L769.66 116.09M786.09 117.9 L786.09 111.57M790.97 117.9 L790.97 113.38 L790.53 112.02 L789.64 111.57 L788.31 111.57 L787.42 112.02 L786.09 113.38M795.86 117.9 L795.86 113.38 L795.41 112.02 L794.53 111.57 L793.19 111.57 L792.31 112.02 L790.97 113.38M804.29 117.9 L804.29 111.57M804.29 116.54 L803.41 117.45 L802.52 117.9 L801.19 117.9 L800.3 117.45 L799.41 116.54 L798.97 115.19 L798.97 114.28 L799.41 112.93 L800.3 112.02 L801.19 111.57 L802.52 111.57 L803.41 112.02 L804.29 112.93M807.4 116.54 L807.85 117.45 L809.18 117.9 L810.51 117.9 L811.84 117.45 L812.29 116.54 L812.29 116.09 L811.84 115.19 L810.95 114.74 L808.73 114.28 L807.85 113.83 L807.4 112.93 L807.85 112.02 L809.18 111.57 L810.51 111.57 L811.84 112.02 L812.29 112.93" stroke="#0000ff" stroke-width="1.75" fill="none" stroke-linejoin="round"/>
<path d="M386.68 129.16 L392.9 129.16 L388.46 138.65M396.01 138.2 L396.45 137.75 L396.89 138.2 L396.45 138.65ZM405.33 129.16 L400.89 129.16 L400.45 133.23 L400.89 132.77 L402.22 132.32 L403.55 132.32 L404.89 132.77 L405.77 133.68 L406.22 135.03 L406.22 135.94 L405.77 137.29 L404.89 138.2 L403.55 138.65 L402.22 138.65 L400.89 138.2 L400.45 137.75 L400 136.84M416.43 138.65 L416.43 132.32M421.31 138.65 L421.31 134.13 L420.87 132.77 L419.98 132.32 L418.65 132.32 L417.76 132.77 L416.43 134.13M426.2 138.65 L426.2 134.13 L425.75 132.77 L424.87 132.32 L423.53 132.32 L422.65 132.77 L421.31 134.13M434.63 138.65 L434.63 132.32M434.63 137.29 L433.75 138.2 L432.86 138.65 L431.53 138.65 L430.64 138.2 L429.75 137.29 L429.31 135.94 L429.31 135.03 L429.75 133.68 L430.64 132.77 L431.53 132.32 L432.86 132.32 L433.75 132.77 L434.63 133.68M437.74 137.29 L438.19 138.2 L439.52 138.65 L440.85 138.65 L442.18 138.2 L442.63 137.29 L442.63 136.84 L442.18 135.94 L441.29 135.49 L439.07 135.03 L438.19 134.58 L437.74 133.68 L438.19 132.77 L439.52 132.32 L440.85 132.32 L442.18 132.77 L442.63 133.68M760.78 129.16 L767 129.16 L762.56 138.65M770.11 138.2 L770.55 137.75 L770.99 138.2 L770.55 138.65ZM779.43 129.16 L774.99 129.16 L774.55 133.23 L774.99 132.77 L776.32 132.32 L777.65 132.32 L778.99 132.77 L779.87 133.68 L780.32 135.03 L780.32 135.94 L779.87 137.29 L778.99 138.2 L777.65 138.65 L776.32 138.65 L774.99 138.2 L774.55 137.75 L774.1 136.84M790.53 138.65 L790.53 132.32M795.41 138.65 L795.41 134.13 L794.97 132.77 L794.08 132.32 L792.75 132.32 L791.86 132.77 L790.53 134.13M800.3 138.65 L800.3 134.13 L799.85 132.77 L798.97 132.32 L797.63 132.32 L796.75 132.77 L795.41 134.13M808.73 138.65 L808.73 132.32M808.73 137.29 L807.85 138.2 L806.96 138.65 L805.63 138.65 L804.74 138.2 L803.85 137.29 L803.41 135.94 L803.41 135.03 L803.85 133.68 L804.74 132.77 L805.63 132.32 L806.96 132.32 L807.85 132.77 L808.73 133.68M811.84 137.29 L812.29 138.2 L813.62 138.65 L814.95 138.65 L816.28 138.2 L816.73 137.29 L816.73 136.84 L816.28 135.94 L815.39 135.49 L813.17 135.03 L812.29 134.58 L811.84 133.68 L812.29 132.77 L813.62 132.32 L814.95 132.32 L816.28 132.77 L816.73 133.68" stroke="#00c800" stroke-width="1.75" fill="none" stroke-linejoin="round"/>
</svg></body></html>
